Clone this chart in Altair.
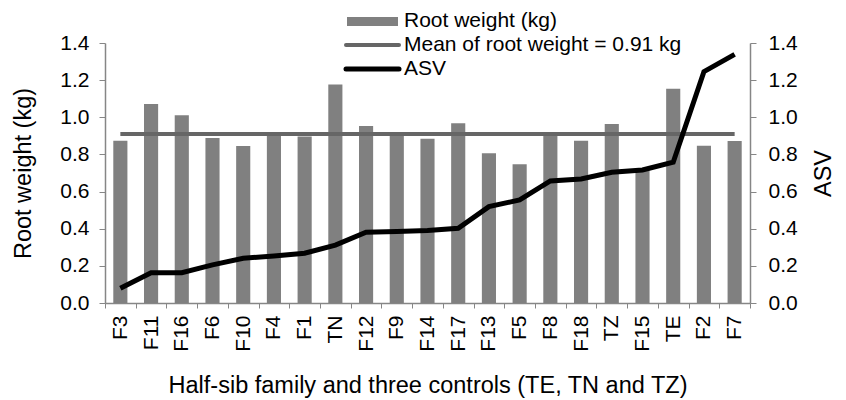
import altair as alt
import pandas as pd

categories = ["F3", "F11", "F16", "F6", "F10", "F4", "F1", "TN", "F12", "F9", "F14",
              "F17", "F13", "F5", "F8", "F18", "TZ", "F15", "TE", "F2", "F7"]
root_weight = [0.874, 1.072, 1.011, 0.889, 0.845, 0.91, 0.896, 1.176, 0.953, 0.91, 0.885,
               0.968, 0.806, 0.747, 0.91, 0.874, 0.964, 0.725, 1.154, 0.847, 0.872]
asv = [0.079, 0.163, 0.163, 0.205, 0.241, 0.253, 0.268, 0.312, 0.381, 0.385, 0.39,
       0.402, 0.519, 0.555, 0.657, 0.668, 0.704, 0.716, 0.758, 1.246, 1.339]
mean_root_weight = 0.91
y_ticks = [0.0, 0.2, 0.4, 0.6, 0.8, 1.0, 1.2, 1.4]
legend_labels = ["Root weight (kg)", "Mean of root weight = 0.91 kg", "ASV"]

FONT = "Liberation Sans"
BAR_COLOR = "#808080"
MEAN_COLOR = "#666666"
AXIS_COLOR = "#868686"
TICK_FS = 21
TITLE_FS = 23.5

df = pd.DataFrame({
    "category": categories,
    "root_weight": root_weight,
    "asv": asv,
    "mean": [mean_root_weight] * len(categories),
})

x_enc = alt.X(
    "category:N", sort=categories,
    scale=alt.Scale(paddingInner=0, paddingOuter=0),
    axis=alt.Axis(title="Half-sib family and three controls (TE, TN and TZ)",
                  labelAngle=270, tickBand="extent", tickSize=5,
                  labelPadding=7, titlePadding=22),
)

left_axis = alt.Axis(title="Root weight (kg)", values=y_ticks, format=".1f",
                     tickSize=6, labelPadding=10, titlePadding=24)

bars = alt.Chart(df).mark_bar(color=BAR_COLOR, width=alt.RelativeBandSize(0.46)).encode(
    x=x_enc,
    y=alt.Y("root_weight:Q", scale=alt.Scale(domain=[0, 1.4], nice=False), axis=left_axis),
)
mean_line = alt.Chart(df).mark_line(color=MEAN_COLOR, strokeWidth=4).encode(
    x=x_enc,
    y=alt.Y("mean:Q", scale=alt.Scale(domain=[0, 1.4], nice=False), axis=left_axis),
)
left = alt.layer(bars, mean_line)

asv_line = alt.Chart(df).mark_line(color="black", strokeWidth=5).encode(
    x=x_enc,
    y=alt.Y("asv:Q", scale=alt.Scale(domain=[0, 1.4], nice=False),
            axis=alt.Axis(orient="right", title="ASV", titleAngle=270, values=y_ticks,
                          format=".1f", tickSize=6, labelPadding=12, titlePadding=38)),
)

# legend glyphs
leg_df = [pd.DataFrame({"label": [lab]}) for lab in legend_labels]
leg_bar = alt.Chart(leg_df[0]).mark_rect(color=BAR_COLOR).encode(
    x=alt.value(242), x2=alt.value(293), y=alt.value(-26), y2=alt.value(-17))
leg_mean = alt.Chart(leg_df[1]).mark_rule(color=MEAN_COLOR, strokeWidth=4, strokeCap="round").encode(
    x=alt.value(241), x2=alt.value(294), y=alt.value(2))
leg_asv = alt.Chart(leg_df[2]).mark_rule(color="black", strokeWidth=5, strokeCap="round").encode(
    x=alt.value(241), x2=alt.value(294), y=alt.value(26))
leg_texts = [
    alt.Chart(leg_df[i]).mark_text(align="left", baseline="middle", font=FONT,
                                   fontSize=TICK_FS, color="black").encode(
        x=alt.value(299), y=alt.value(yy), text="label:N")
    for i, yy in zip(range(3), [-22, 2, 26])
]

chart = alt.layer(left, asv_line, leg_bar, leg_mean, leg_asv, *leg_texts).resolve_scale(
    y="independent"
).properties(
    width=645, height=260,
    padding={"left": 97, "top": 35, "right": 88, "bottom": 97},
    autosize=alt.AutoSizeParams(type="none"),
).configure_axis(
    labelFont=FONT, titleFont=FONT, labelFontSize=TICK_FS, titleFontSize=TITLE_FS,
    titleFontWeight="normal", labelColor="black", titleColor="black",
    domainColor=AXIS_COLOR, tickColor=AXIS_COLOR, grid=False, domainWidth=1.5,
).configure_view(stroke=None)

chart.save("out.html", embed_options={"renderer": "svg", "actions": False})
